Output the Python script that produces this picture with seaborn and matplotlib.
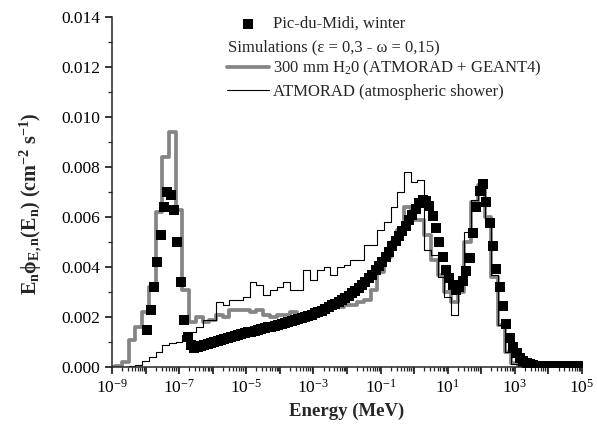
import numpy as np
import matplotlib
matplotlib.use('Agg')
import matplotlib.pyplot as plt
import seaborn as sns
from matplotlib.ticker import LogLocator, MultipleLocator, FormatStrFormatter, FuncFormatter, NullFormatter
from matplotlib.lines import Line2D

# ---------------- data ----------------
# measured spectrum (Pic-du-Midi, winter): log10(E / MeV) and E*phi values
meas_log10_energy = [
    -7.95, -7.85, -7.75, -7.65, -7.55, -7.45, -7.35, -7.25, -7.15, -7.05,
    -6.95, -6.85, -6.75, -6.65, -6.55, -6.45, -6.35, -6.25, -6.15, -6.05,
    -5.95, -5.85, -5.75, -5.65, -5.55, -5.45, -5.35, -5.25, -5.15, -5.05,
    -4.95, -4.85, -4.75, -4.65, -4.55, -4.45, -4.35, -4.25, -4.15, -4.05,
    -3.95, -3.85, -3.75, -3.65, -3.55, -3.45, -3.35, -3.25, -3.15, -3.05,
    -2.95, -2.85, -2.75, -2.65, -2.55, -2.45, -2.35, -2.25, -2.15, -2.05,
    -1.95, -1.85, -1.75, -1.65, -1.55, -1.45, -1.35, -1.25, -1.15, -1.05,
    -0.95, -0.85, -0.75, -0.65, -0.55, -0.45, -0.35, -0.25, -0.15, -0.05,
    0.05, 0.15, 0.25, 0.35, 0.45, 0.55, 0.65, 0.75, 0.85, 0.95,
    1.05, 1.15, 1.25, 1.35, 1.45, 1.55, 1.65, 1.75, 1.85, 1.95,
    2.05, 2.15, 2.25, 2.35, 2.45, 2.55, 2.65, 2.75, 2.85, 2.95,
    3.05, 3.15, 3.25, 3.35, 3.45, 3.55, 3.65, 3.75, 3.85, 3.95,
    4.05, 4.15, 4.25, 4.35, 4.45, 4.55, 4.65, 4.75, 4.85, 4.95,
]
meas_values = [
    0.0015, 0.0023, 0.0032, 0.0042, 0.0053, 0.0064, 0.0070, 0.0069, 0.0063, 0.0050,
    0.0034, 0.0019, 0.0012, 0.00088, 0.00078, 0.00082, 0.00086, 0.00090, 0.00093, 0.00097,
    0.00101, 0.00105, 0.00108, 0.00112, 0.00116, 0.00120, 0.00123, 0.00127, 0.00131, 0.00135,
    0.00139, 0.00142, 0.00145, 0.00149, 0.00152, 0.00155, 0.00159, 0.00162, 0.00166, 0.00169,
    0.00173, 0.00176, 0.00180, 0.00184, 0.00188, 0.00192, 0.00196, 0.00200, 0.00205, 0.00210,
    0.00215, 0.00220, 0.00225, 0.00232, 0.00240, 0.00247, 0.00254, 0.00261, 0.00268, 0.00275,
    0.00285, 0.00295, 0.00305, 0.00316, 0.00328, 0.00341, 0.00355, 0.00370, 0.00387, 0.00404,
    0.00422, 0.00442, 0.00462, 0.00484, 0.00504, 0.00525, 0.00545, 0.00565, 0.00588, 0.00610,
    0.00634, 0.00655, 0.00668, 0.00665, 0.00644, 0.00604, 0.00555, 0.00501, 0.00439, 0.00388,
    0.00355, 0.00328, 0.00308, 0.00321, 0.00345, 0.00385, 0.00437, 0.00537, 0.00641, 0.00705,
    0.00732, 0.00661, 0.00575, 0.00484, 0.00391, 0.00321, 0.00246, 0.00172, 0.00115, 0.00080,
    0.00055, 0.00037, 0.00024, 0.00016, 0.00011, 0.00008, 0.00006, 0.00005, 0.00005, 0.00004,
    0.00004, 0.00004, 0.00004, 0.00003, 0.00003, 0.00003, 0.00003, 0.00003, 0.00003, 0.00003,
]

# simulated histograms: bin edges in log10(E / MeV)
hist_log10_edges = [
    -9.1, -8.9, -8.7, -8.5, -8.3, -8.1, -7.9, -7.7, -7.5, -7.3, -7.1, -6.9,
    -6.7, -6.5, -6.3, -6.1, -5.9, -5.7, -5.5, -5.3, -5.1, -4.9, -4.7, -4.5,
    -4.3, -4.1, -3.9, -3.7, -3.5, -3.3, -3.1, -2.9, -2.7, -2.5, -2.3, -2.1,
    -1.9, -1.7, -1.5, -1.3, -1.1, -0.9, -0.7, -0.5, -0.3, -0.1, 0.1, 0.3,
    0.5, 0.7, 0.9, 1.1, 1.3, 1.5, 1.7, 1.9, 2.1, 2.3, 2.5, 2.7,
    2.9, 3.1, 3.3, 3.5, 3.7, 3.9, 4.1, 4.3, 4.5, 4.7, 4.9, 5.1,
]
# 300 mm H2O (ATMORAD + GEANT4)
h2o_values = [
    0.0, 0.00003, 0.0002, 0.0011, 0.0016, 0.0022, 0.0032, 0.0062, 0.0084, 0.0094,
    0.0063, 0.0031, 0.0018, 0.0020, 0.0018, 0.0019, 0.0021, 0.0020, 0.0023, 0.0023,
    0.0023, 0.0022, 0.0023, 0.0021, 0.0020, 0.0021, 0.0021, 0.0022, 0.0020, 0.0020,
    0.0021, 0.0022, 0.0023, 0.0024, 0.0024, 0.0025, 0.0025, 0.0026, 0.0027, 0.0031,
    0.0038, 0.0044, 0.0050, 0.0055, 0.0064, 0.0059, 0.0059, 0.0053, 0.0043, 0.0037,
    0.0030, 0.0026, 0.0030, 0.0050, 0.0066, 0.0073, 0.0060, 0.0036, 0.0017, 0.0006,
    0.00015, 0.00003, 0.0, 0.0, 0.0, 0.0, 0.0, 0.0, 0.0, 0.0, 0.0,
]
# ATMORAD (atmospheric shower)
atm_values = [
    0.0, 0.0, 0.0, 0.00003, 0.0001, 0.00025, 0.0004, 0.0006, 0.0009, 0.00095,
    0.0010, 0.0013, 0.0014, 0.0016, 0.0019, 0.0019, 0.0026, 0.0025, 0.0027, 0.0027,
    0.0028, 0.0034, 0.0033, 0.0029, 0.0031, 0.0032, 0.0034, 0.0031, 0.0031, 0.0039,
    0.0035, 0.0039, 0.0040, 0.0037, 0.0040, 0.0041, 0.0043, 0.0043, 0.0049, 0.0049,
    0.0055, 0.0058, 0.0064, 0.0070, 0.0078, 0.0074, 0.0075, 0.0047, 0.0045, 0.0036,
    0.0028, 0.0021, 0.0034, 0.0054, 0.0067, 0.0074, 0.0059, 0.0037, 0.0017, 0.0006,
    0.00012, 0.00003, 0.0, 0.0, 0.0, 0.0, 0.0, 0.0, 0.0, 0.0, 0.0,
]

legend_labels = ['Pic-du-Midi, winter',
                 '300 mm H$_2$0 (ATMORAD + GEANT4)',
                 'ATMORAD (atmospheric shower)']
sim_title = 'Simulations (ε = 0,3 - ω = 0,15)'
x_label = 'Energy (MeV)'
y_label = r'$\mathbf{E_n\phi_{E,n}(E_n)\ (cm^{-2}\ s^{-1})}$'

# ---------------- style ----------------
sns.set_style('ticks')
plt.rcParams['font.family'] = ['Liberation Serif', 'DejaVu Serif']
plt.rcParams['mathtext.fontset'] = 'custom'
plt.rcParams['mathtext.rm'] = 'Liberation Serif'
plt.rcParams['mathtext.it'] = 'Liberation Serif:italic'
plt.rcParams['mathtext.bf'] = 'Liberation Serif:bold'
plt.rcParams['axes.linewidth'] = 1.1

fig = plt.figure(figsize=(5.97, 4.29), dpi=100)
ax = fig.add_axes([112 / 597, 62 / 429, 470 / 597, 350 / 429])
ax.set_xscale('log')

edges = 10.0 ** np.array(hist_log10_edges)
h2o_y = np.append(h2o_values, h2o_values[-1])
atm_y = np.append(atm_values, atm_values[-1])

sns.lineplot(x=edges, y=h2o_y, drawstyle='steps-post', color='#858585',
             linewidth=2.7, ax=ax, sort=False, estimator=None,
             label=legend_labels[1], zorder=2)
sns.lineplot(x=edges, y=atm_y, drawstyle='steps-post', color='black',
             linewidth=0.8, ax=ax, sort=False, estimator=None,
             label=legend_labels[2], zorder=2.5)
sns.scatterplot(x=10.0 ** np.array(meas_log10_energy), y=meas_values,
                marker='s', s=60, color='black', edgecolor='black',
                linewidth=0, ax=ax, label=legend_labels[0], zorder=3)

ax.set_xlim(1e-9, 1e5)
ax.set_ylim(0, 0.014)

ax.xaxis.set_major_locator(LogLocator(base=10, numticks=30))
ax.xaxis.set_minor_locator(LogLocator(base=10, subs=np.arange(2, 10), numticks=300))
ax.xaxis.set_minor_formatter(NullFormatter())


def odd_pow(v, pos):
    e = int(round(np.log10(v)))
    return r'$10^{%d}$' % e if e % 2 != 0 else ''


ax.xaxis.set_major_formatter(FuncFormatter(odd_pow))
ax.yaxis.set_major_locator(MultipleLocator(0.002))
ax.yaxis.set_minor_locator(MultipleLocator(0.001))
ax.yaxis.set_major_formatter(FormatStrFormatter('%.3f'))

ax.tick_params(which='major', direction='out', length=5, width=1.1, labelsize=12.5, colors='black')
ax.tick_params(which='minor', direction='out', length=3, width=0.9)
sns.despine(ax=ax)

ax.set_xlabel(x_label, fontsize=13.5, fontweight='bold', labelpad=4)
ax.set_ylabel(y_label, fontsize=14.5)
ax.yaxis.set_label_coords(-0.145, 0.465)

handles, labels = ax.get_legend_handles_labels()
lab_to_h = dict(zip(labels, handles))
blank = Line2D([], [], linestyle='None')
leg = ax.legend([lab_to_h[legend_labels[0]], blank, lab_to_h[legend_labels[1]], lab_to_h[legend_labels[2]]],
                [legend_labels[0], ' ', legend_labels[1], legend_labels[2]],
                loc='upper left', bbox_to_anchor=(227 / 597, 1 - 16 / 429),
                bbox_transform=fig.transFigure, frameon=False, borderpad=0,
                borderaxespad=0, handlelength=2.5, handletextpad=0.25,
                labelspacing=0.33, fontsize=12)
fig.text(228 / 597, 1 - 47 / 429, sim_title, ha='left', va='center', fontsize=12)

fig.savefig('out.png', dpi=100)
